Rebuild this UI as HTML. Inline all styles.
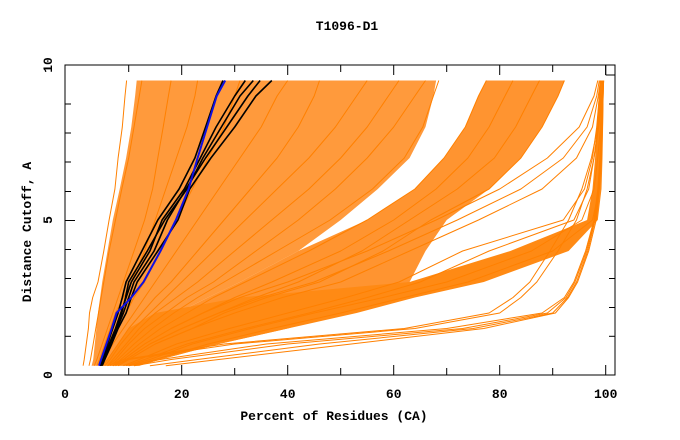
<!DOCTYPE html>
<html><head><meta charset="utf-8"><style>
body{margin:0;background:#fff;}
svg{display:block;font-family:"Liberation Mono",monospace;font-weight:bold;}
</style></head><body>
<svg id="chart" width="680" height="440" viewBox="0 0 680 440" xmlns="http://www.w3.org/2000/svg">
<rect x="0" y="0" width="680" height="440" fill="#fff"/>
<text x="347" y="30" font-size="13" text-anchor="middle">T1096-D1</text>
<text x="334" y="420" font-size="13" text-anchor="middle">Percent of Residues (CA)</text>
<text transform="translate(31,232) rotate(-90)" font-size="13" text-anchor="middle">Distance Cutoff, A</text>
<g id="fills"></g>
<g id="lines"></g>
<g id="axes"></g>
</svg>
<script>
const yLevels = [0.3,0.5,1,1.5,2,2.5,3,4,5,6,7,8,9,9.5];
const xTicks = [0,10,20,30,40,50,60,70,80,90,100];
const xLabels = ["0","20","40","60","80","100"];
const xLabelVals = [0,20,40,60,80,100];
const yLabels = ["0","5","10"];
const yLabelVals = [0,5,10];

const uLeft  = [3,3.3,3.6,3.9,4.2,4.6,5,6,7,8.3,9.5,10.5,11.2,11.5];
const uRight = [6,7,10,14,19,25,31,42,50,57,63,66,67.5,68];
const nLeft  = [6,7,10,14,19,25,31,42,55,64,69.5,73.5,76,77.5];
const nRight = [12,16,27,40,50,58,63,66,70,78,84,88,91,92.2];
const mUpper = [5,6,8,10,15,31,63,82,96.5,97.5,98,98.3,98.7,98.9];
const mLower = [12,16,27,40,53,64,77,93,98.5,99.2,99.4,99.5,99.6,99.7];

const a1 = [1.4,1.6,2,2.4,2.6,3.2,4.2,5.3,6.3,7.4,8,8.8,9.3,9.6];
const a2 = [2.5,2.8,3.3,3.8,4.3,4.8,5.3,6.3,7.5,8.7,10,11,12,12.5];
const u1 = [3.5,4,5,6,7,8,9,11,13,14.5,15.5,16.5,17.5,18];
const u2 = [4,4.5,5.5,6.5,7.5,9,10.5,13,15,17,19,21,22.5,23];
const u3 = [4.5,5,6.5,8,9.5,11,13,16,19,22,25,28,30,31];
const u4 = [5,5.5,7,9,11,13,15,19,23,27,31,35,38,40];
const u5 = [5,6,8,10,12.5,15,18,23,28,33,38,42,45,46];
const u6 = [5.5,6.5,8.5,11,14,17,20,26,32,38,44,49,53,55];
const u7 = [6,7,9.5,12,15,19,23,30,37,44,50,55,59,61];
const u8 = [6,7.5,10,13,17,21,26,34,42,49,55,60,64,66];
const u9 = [6.5,8,11,14.5,18.5,23,28,38,48,56,62,65.5,67.5,68.5];
const n1 = [7,8.5,12,16,21,26,32,44,55,64,69.5,73.5,76,77.5];
const n2 = [7,9,13,18,24,30,37,50,60,68,74,78,81,82.5];
const n3 = [7.5,9.5,14,20,27,34,42,54,63,72,79,83,86,87.5];
const n4 = [8,10,15,22,28,36,46,58,67,78,84,88,91,92.2];
const r1 = [7,9,13,18,24,31,40,55,68,80,89,95,97.8,98.5];
const r2 = [7.5,9.5,14,20,27,35,45,59,72,84,92,96.5,98.3,98.8];
const r3 = [8,10,15,22,30,39,50,63,76,88,94.5,97.5,98.6,99];
const s1 = [9,12,19,29,40,51,61,73,92,96,97.5,98.3,98.8,99];
const s2 = [9.5,13,21,32,44,55,65,78,94,96.8,97.8,98.5,99,99.2];
const m1 = [10,14,22,33,45,58,70,86,95.5,97.8,98.5,99,99.3,99.5];
const m2 = [11,15,25,37,50,62,74,90,97.5,98.8,99.2,99.4,99.5,99.6];
const o1 = [17,27,52,77,90.5,93,94.7,96.8,98.2,98.8,99.1,99.3,99.5,99.6];
const o2 = [14,23,46,75,90,92.8,94.5,96.6,98,98.7,99,99.2,99.4,99.5];
const o3 = [11,18,40,73,89,92.5,94.2,96.4,97.9,98.6,98.95,99.15,99.35,99.45];
const o4 = [10,16,36,70,88,92.2,94,96.2,97.8,98.5,98.9,99.1,99.3,99.4];
const o5 = [6,9,28,62,78,82.5,85.7,89.5,93,95.5,97.3,98.5,99.2,99.5];
const o6 = [7,10,30,64,80,84,87,91,94.5,96.5,97.8,98.7,99.3,99.5];

const k1 = [4.5,5,6,7,8,8.8,9.5,12.5,15.5,19.5,22.5,24.5,26.5,27.8];
const k2 = [4.6,5.2,6.3,7.5,8.5,9.5,10.5,14,16.3,20.5,23.5,26.5,30,32];
const k3 = [4.8,5.3,6.5,7.8,9,10,11,14.8,17.3,20.8,24.5,28.5,32.5,34.8];
const k4 = [5,5.5,6.8,8,9.5,10.5,11.6,15.5,19.3,21.5,25.5,30,34,37];
const k5 = [4.7,5.2,6.4,7.6,8.7,9.4,10,13.5,16.8,21,24,27.5,31,33.5];
const blue = [4.4,4.8,5.8,6.8,7.7,10.5,12.8,16,18.9,21.3,23,24.8,26.6,28.2];

const NS = "http://www.w3.org/2000/svg";
function sx(v){ return 75.7 + 5.3*v; }
function sy(v){ return 375 - 31*v; }
const fills = document.getElementById('fills');
const lines = document.getElementById('lines');
const axes = document.getElementById('axes');

function band(left, right, color, name){
  const pts = [];
  for(let i=0;i<yLevels.length;i++) pts.push(sx(left[i]).toFixed(1)+','+sy(yLevels[i]).toFixed(1));
  for(let i=yLevels.length-1;i>=0;i--) pts.push(sx(right[i]).toFixed(1)+','+sy(yLevels[i]).toFixed(1));
  const p = document.createElementNS(NS,'polygon');
  p.setAttribute('points', pts.join(' '));
  p.setAttribute('fill', color);
  
  
  fills.appendChild(p);
}
band(uLeft, uRight, '#ff9a3c', 'upper-fan-band');
band(nLeft, nRight, '#ff9430', 'middle-fan-band');
band(mUpper, mLower, '#ff8a14', 'lower-dense-band');

function line(xs, color, w, name){
  const pts = xs.map((v,i)=> sx(v).toFixed(1)+','+sy(yLevels[i]).toFixed(1));
  const p = document.createElementNS(NS,'polyline');
  p.setAttribute('points', pts.join(' '));
  p.setAttribute('fill','none');
  p.setAttribute('stroke', color);
  p.setAttribute('stroke-width', w);
  p.setAttribute('stroke-linejoin','round');
  
  
  lines.appendChild(p);
}
const orange = [a1,a2,u1,u2,u3,u4,u5,u6,u7,u8,u9,n1,n2,n3,n4,r1,r2,r3,s1,s2,m1,m2,o1,o2,o3,o4,o5,o6];
orange.forEach(s=>line(s,'#ff8000',1,'model-curve'));
[k1,k2,k3,k4,k5].forEach(s=>line(s,'#000',1.6,'highlight-curve'));
line(blue,'#1010e0',2,'best-model-curve');

const fr = document.createElementNS(NS,'rect');
fr.setAttribute('x',65); fr.setAttribute('y',65); fr.setAttribute('width',550); fr.setAttribute('height',310);
fr.setAttribute('fill','none'); fr.setAttribute('stroke','#000'); fr.setAttribute('stroke-width',1);


axes.appendChild(fr);
function seg(x1,y1,x2,y2){
  const l = document.createElementNS(NS,'line');
  l.setAttribute('x1',x1); l.setAttribute('y1',y1); l.setAttribute('x2',x2); l.setAttribute('y2',y2);
  l.setAttribute('stroke','#000'); l.setAttribute('stroke-width',1);
  
  
  axes.appendChild(l);
}
xTicks.forEach(v=>{
  if(v===0) return;
  const len = (v%20===0)?10:7;
  seg(sx(v),375,sx(v),375-len);
  seg(sx(v),65,sx(v),65+len);
});
const yTickPx = [104,133,162,191.5,220.5,249.5,278.5,307.5,336.3];
yTickPx.forEach((p,i)=>{
  const len = (i===4)?10:6;
  seg(65,p,65+len,p);
  seg(615,p,615-len,p);
});
seg(605.7,65,605.7,75); seg(605.7,75,615,75);
xLabelVals.forEach((v,i)=>{
  const t = document.createElementNS(NS,'text');
  t.setAttribute('x', v===0?65:sx(v)); t.setAttribute('y',398);
  t.setAttribute('font-size',13); t.setAttribute('text-anchor','middle');
  
  
  t.textContent = xLabels[i];
  axes.appendChild(t);
});
yLabelVals.forEach((v,i)=>{
  const t = document.createElementNS(NS,'text');
  const py = 375 - 31*v;
  t.setAttribute('transform','translate(52,'+py+') rotate(-90)');
  t.setAttribute('font-size',13); t.setAttribute('text-anchor','middle');
  
  
  t.textContent = yLabels[i];
  axes.appendChild(t);
});
</script>
</body></html>
